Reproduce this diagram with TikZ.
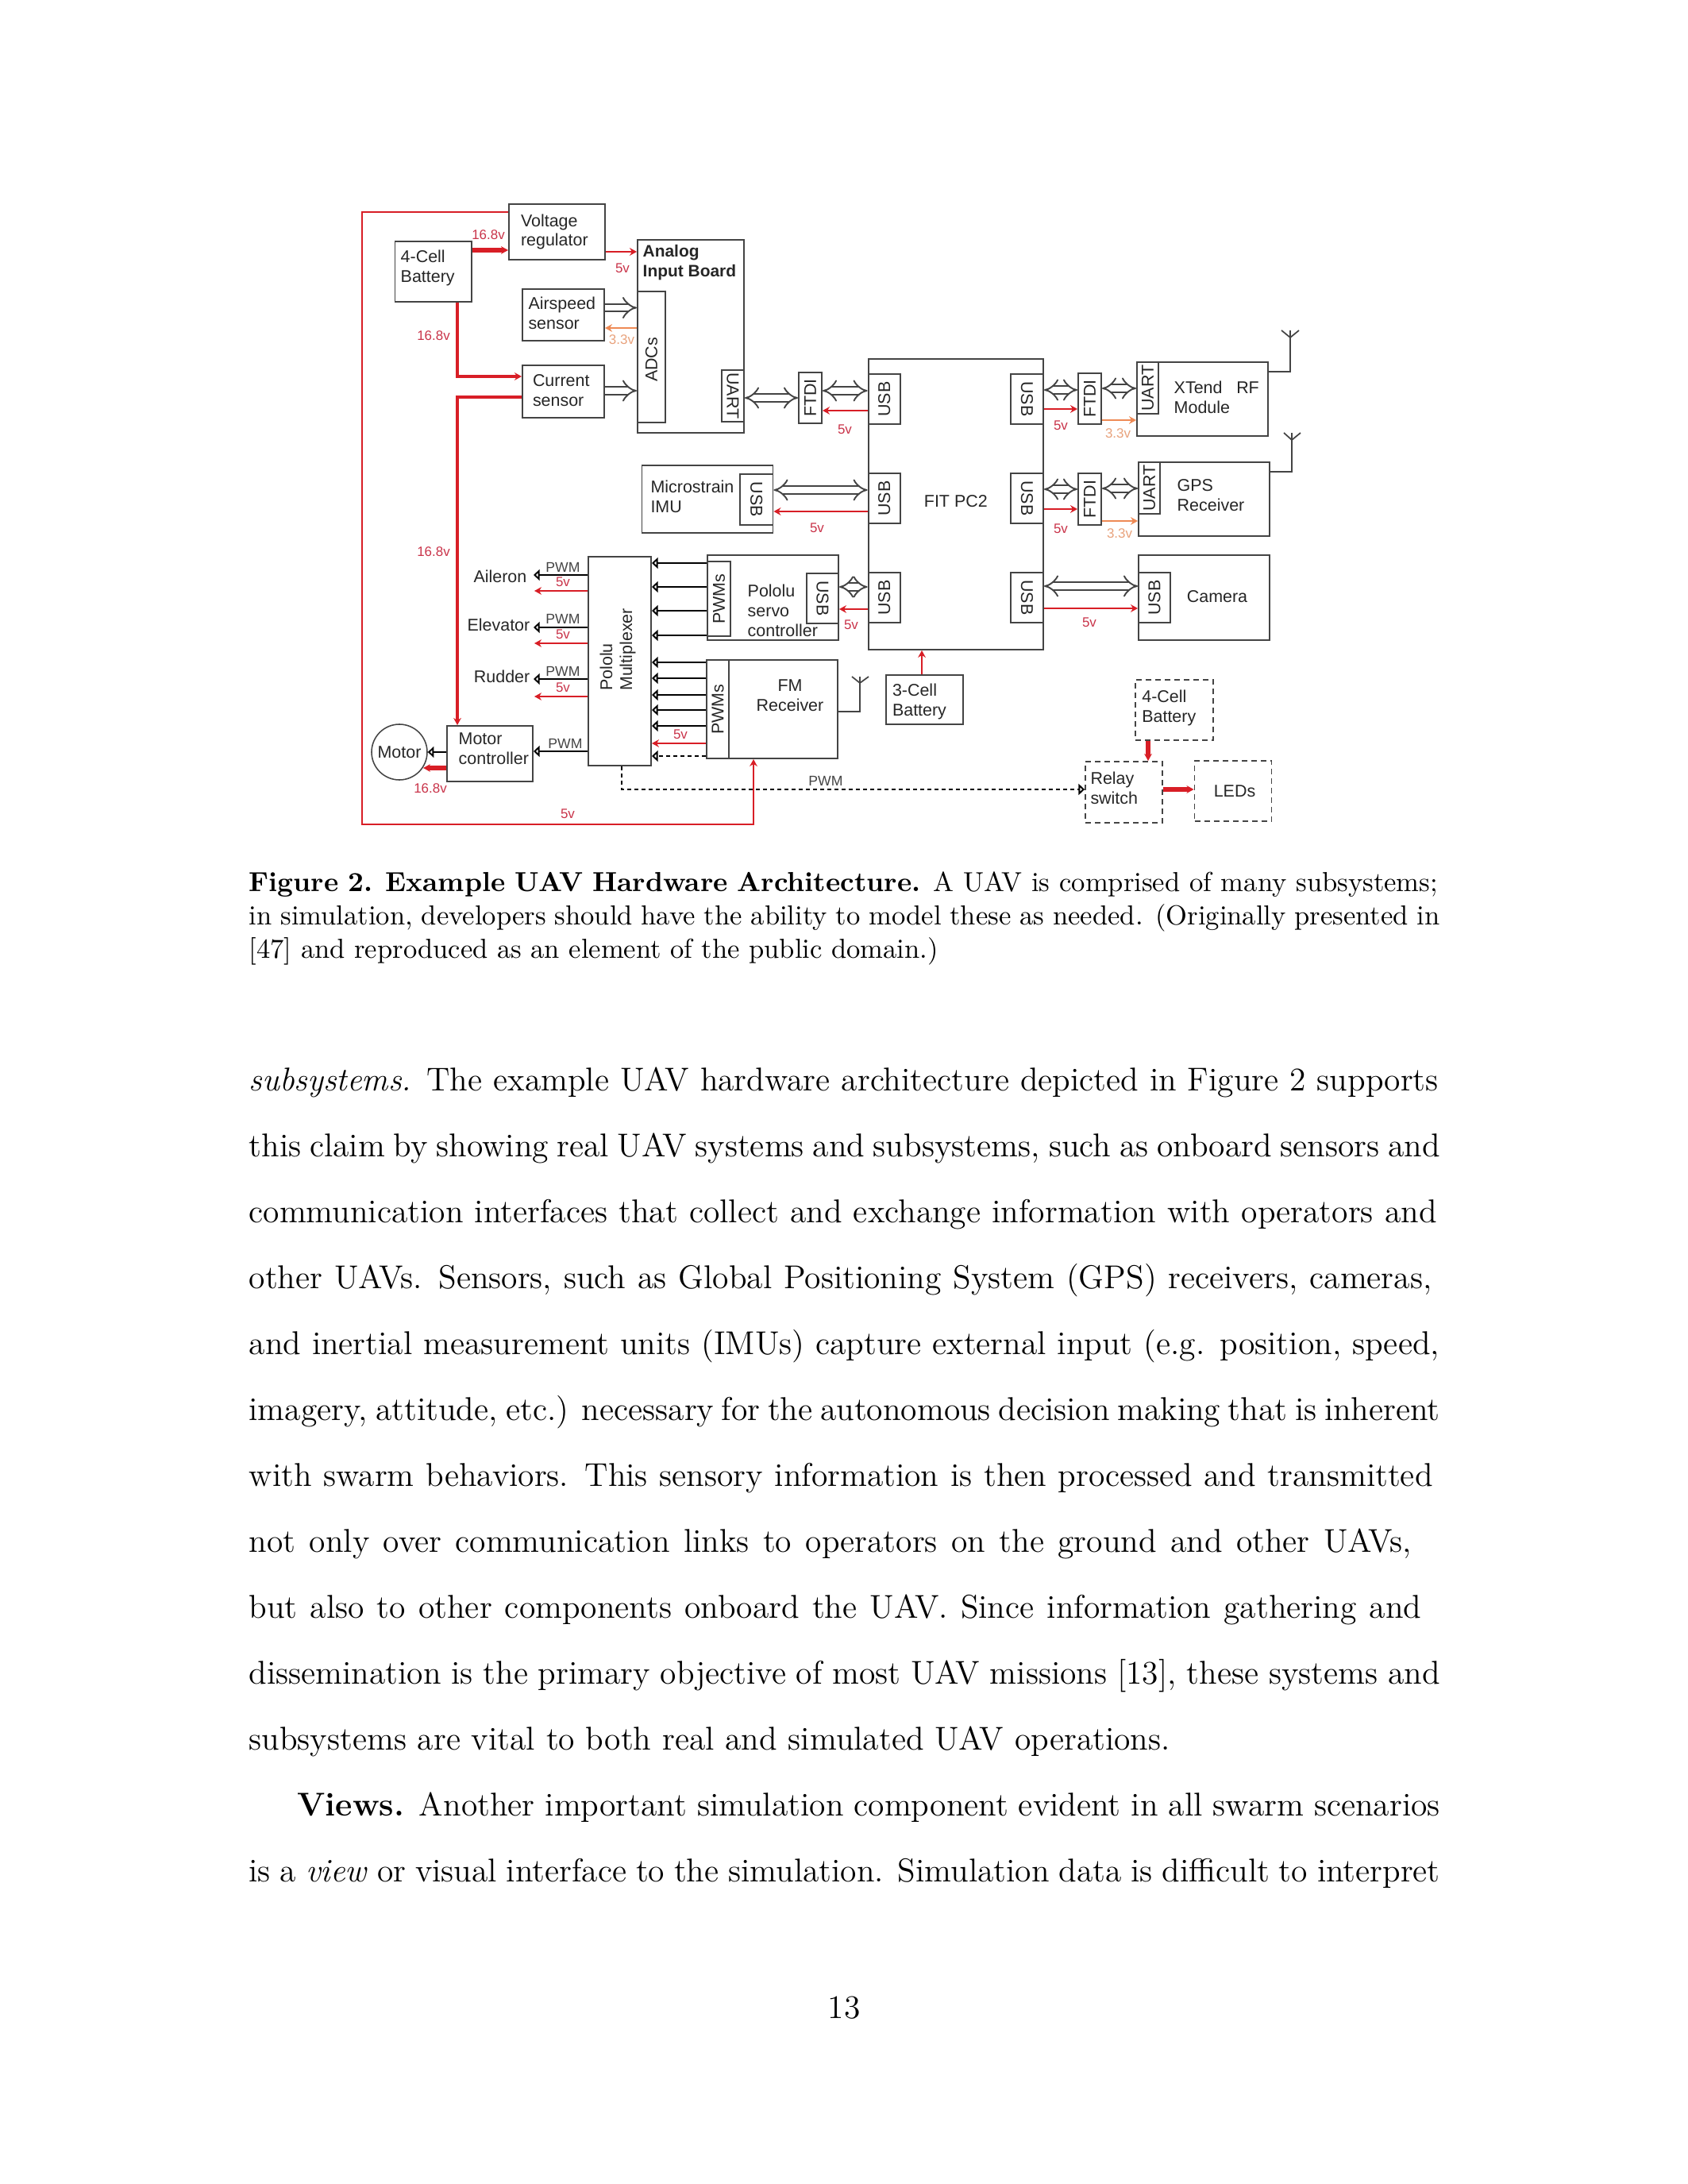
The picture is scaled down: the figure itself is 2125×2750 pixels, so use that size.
\documentclass[tikz,border=0pt]{standalone}
\usepackage{fontspec}
\usetikzlibrary{arrows.meta}
\newfontfamily\figfont{Liberation Sans}
\newdimen\px
\px=0.28908pt
\definecolor{boxgray}{HTML}{444444}
\definecolor{railred}{HTML}{D81E26}
\definecolor{railorange}{HTML}{EE8A55}
\definecolor{voltred}{HTML}{C9344A}
\definecolor{voltorange}{HTML}{E8A27C}
\begin{document}
\begin{tikzpicture}[x=\px,y=-\px,>=Stealth,
    blk/.style={draw=boxgray,line width=.55pt,inner sep=0pt,align=left,text=black!85,font=\figfont\fontsize{6.2}{7.2}\selectfont},
    dashblk/.style={blk,dash pattern=on 7\px off 5\px},
    txt/.style={inner sep=0pt,align=left,text=black!85,font=\figfont\fontsize{6.2}{7.2}\selectfont},
    volts/.style={inner sep=0pt,text=voltred,font=\figfont\fontsize{4.9}{6}\selectfont},
    volts3/.style={volts,text=voltorange},
    pwm/.style={inner sep=0pt,text=boxgray,font=\figfont\fontsize{5.1}{6}\selectfont},
    rail/.style={draw=railred,line width=.85pt,-{Stealth[length=2.6pt,width=2.8pt]}},
    rail2/.style={rail,line width=1.6pt},
    rail3/.style={draw=railorange,line width=.85pt,-{Stealth[length=2.6pt,width=2.8pt]}},
    sig/.style={line width=.85pt,-{Triangle[open,fill=white,length=2.2pt,width=4pt]}},
    wide/.style={boxgray,line width=.55pt,double,double distance=2.2pt,{Implies[length=2.2pt,width=6.4pt]}-{Implies[length=2.2pt,width=6.4pt]}},
    wide1/.style={boxgray,line width=.55pt,double,double distance=2.2pt,-{Implies[length=2.2pt,width=6.4pt]}},
    ant/.style={draw=boxgray,line width=.5pt}]
  \useasboundingbox (0,0) rectangle (2125,2750);
  % power side
  \node[blk,minimum width=121\px,minimum height=70\px,text width=91\px,inner xsep=15\px] (volt) at (701.5,292) {Voltage\\regulator};
  \node[blk,minimum width=96.5\px,minimum height=76\px,text width=82\px,inner xsep=7\px,text depth=38\px] (batt) at (545.7,342) {4-Cell\\Battery};
  \node[blk,minimum width=103\px,minimum height=65\px,text width=88\px,inner xsep=7.5\px,text depth=30\px] (air) at (709.5,396.5) {Airspeed\\sensor};
  \node[blk,minimum width=103\px,minimum height=66\px,text width=77\px,inner xsep=13\px,text depth=28\px] (cur) at (709.5,493) {Current\\sensor};
  \node[blk,minimum width=134\px,minimum height=243\px] (adb) at (870,423.5) {};
  \node[txt,anchor=north west,font=\figfont\bfseries\fontsize{6.05}{7.2}\selectfont] (adbtxt) at (809,307.5) {Analog\\Input Board};
  \node[blk,rotate=90,minimum width=165\px,minimum height=35\px] (adc) at (820.5,449.5) {ADCs\hspace*{7\px}};
  \node[blk,rotate=-90,minimum width=65\px,minimum height=28\px] (uarta) at (923,498.5) {UART};
  \node[blk,rotate=90,minimum width=64\px,minimum height=29\px] (ftdia) at (1020.5,501) {FTDI};
  % the pc and its ports
  \node[blk,minimum width=220.4\px,minimum height=366\px] (pc) at (1203.8,635) {\raisebox{8\px}{FIT PC2}};
  \node[blk,rotate=90,minimum width=63\px,minimum height=40.4\px] (usba) at (1113.8,502.5) {USB};
  \node[blk,rotate=90,minimum width=63\px,minimum height=40.4\px] (usbb) at (1113.8,627.5) {USB};
  \node[blk,rotate=90,minimum width=63\px,minimum height=40.4\px] (usbc) at (1113.8,752.5) {USB};
  \node[blk,rotate=-90,minimum width=63\px,minimum height=41\px] (usbd) at (1293.5,502.5) {USB};
  \node[blk,rotate=-90,minimum width=63\px,minimum height=41\px] (usbe) at (1293.5,627.5) {USB};
  \node[blk,rotate=-90,minimum width=63\px,minimum height=41\px] (usbf) at (1293.5,752.5) {USB};
  \node[blk,minimum width=165\px,minimum height=85\px,text width=143\px,inner xsep=11\px,text depth=31\px] (imu) at (891,628.5) {Microstrain\\IMU};
  \node[blk,rotate=-90,minimum width=64\px,minimum height=41.5\px] (usbi) at (952.7,629) {USB};
  \node[blk,rotate=90,minimum width=64\px,minimum height=29\px] (ftdib) at (1372.5,502) {FTDI};
  \node[blk,rotate=90,minimum width=65\px,minimum height=29\px] (ftdic) at (1372.5,628.5) {FTDI};
  \node[blk,minimum width=165\px,minimum height=93\px] (xtend) at (1514.5,502.5) {};
  \node[txt,anchor=west] (xtendtxt) at (1478,500.5) {XTend\hspace{.55em} RF\\Module};
  \node[blk,rotate=90,minimum width=65\px,minimum height=27\px] (uartb) at (1445.5,488.5) {UART};
  \node[blk,minimum width=164.6\px,minimum height=93\px] (gps) at (1516.3,628.5) {};
  \node[txt,anchor=west] (gpstxt) at (1482,624) {GPS\\Receiver};
  \node[blk,rotate=90,minimum width=65\px,minimum height=27\px] (uartc) at (1447.5,614.5) {UART};
  \node[blk,minimum width=164.6\px,minimum height=107\px] (cam) at (1516.3,752.5) {};
  \node[txt] (camtxt) at (1533,751) {Camera};
  \node[blk,rotate=90,minimum width=63\px,minimum height=40\px] (usbg) at (1454,752.5) {USB};
  % servo side
  \node[blk,minimum width=79\px,minimum height=263\px] (mux) at (780.5,832.5) {};
  \node[txt,rotate=90] (muxtxt) at (778,818) {Pololu\\Multiplexer};
  \node[blk,minimum width=165\px,minimum height=107\px] (servo) at (973.5,752.5) {};
  \node[txt,anchor=north west] (servotxt) at (941,735) {Pololu\\servo\\controller};
  \node[blk,rotate=90,minimum width=94\px,minimum height=29\px] (pwma) at (905.5,754) {PWMs};
  \node[blk,rotate=-90,minimum width=63\px,minimum height=40\px] (usbs) at (1036,753.5) {USB};
  \node[blk,minimum width=165\px,minimum height=124\px] (fm) at (972.5,893) {};
  \node[txt,align=center] (fmtxt) at (995,876) {FM\\Receiver};
  \node[blk,rotate=90,minimum width=124\px,minimum height=28\px] (pwmb) at (904,893) {PWMs};
  \node[blk,minimum width=97\px,minimum height=62\px,text width=81\px,inner xsep=8\px,text height=20\px] (cellc) at (1164.5,881) {3-Cell\\Battery};
  \node[blk,minimum width=108\px,minimum height=70\px] (mctrl) at (617,949) {};
  \node[txt,anchor=west] (mctrltxt) at (577,943) {Motor\\controller};
  \node[blk,circle,minimum size=70\px,line width=.45pt,align=center] (motor) at (503,947) {Motor};
  \node[txt,anchor=east,inner xsep=8\px] (ail) at (672,726) {Aileron};
  \node[txt,anchor=east,inner xsep=4\px] (ele) at (672,787) {Elevator};
  \node[txt,anchor=east,inner xsep=4\px] (rud) at (672,852) {Rudder};
  % dashed part
  \node[dashblk,minimum width=97.4\px,minimum height=76\px,text width=82\px,inner xsep=8\px,text depth=35\px] (celld) at (1479.3,894) {4-Cell\\Battery};
  \node[dashblk,minimum width=97\px,minimum height=77\px,text width=84\px,inner xsep=6.5\px,text depth=35\px] (relay) at (1415.5,997.5) {Relay\\switch};
  \node[dashblk,minimum width=97\px,minimum height=76\px,align=center] (leds) at (1553,996) {\hspace*{4\px}LEDs};
  % power lines
  \draw[rail2] (batt.east |- 0,315) -- (volt.west |- 0,315);
  \draw[rail] (volt.east |- 0,317) -- (adb.west |- 0,317);
  \draw[rail,line width=1.2pt] (batt.south -| 576,0) -- (576,474) -- (cur.west |- 0,474);
  \draw[rail,line width=1.2pt] (cur.west |- 0,500) -- (576,500) -- (mctrl.north -| 576,0);
  \draw[rail] (volt.west |- 0,267) -- (456,267) -- (456,1038) -- (949,1038) -- (fm.south -| 949,0);
  \draw[rail3] (adb.west |- 0,413) -- (air.east |- 0,413);
  \draw[rail] (usba.north |- 0,517) -- (ftdia.south |- 0,517);
  \draw[rail] (usbb.north |- 0,644) -- (usbi.north |- 0,644);
  \draw[rail] (usbc.north |- 0,767) -- (usbs.north |- 0,767);
  \draw[rail] (usbd.north |- 0,515) -- (ftdib.north |- 0,515);
  \draw[rail] (usbe.north |- 0,641) -- (ftdic.north |- 0,641);
  \draw[rail] (usbf.north |- 0,766) -- (cam.west |- 0,766);
  \draw[rail3] (ftdib.south |- 0,529) -- (xtend.west |- 0,529);
  \draw[rail3] (ftdic.south |- 0,656) -- (gps.west |- 0,656);
  \draw[rail] (cellc.north -| 1161,0) -- (pc.south -| 1161,0);
  \draw[rail2] (celld.south -| 1446,0) -- (relay.north -| 1446,0);
  \draw[rail2] (relay.east |- 0,994) -- (leds.west |- 0,994);
  \draw[rail] (pwmb.north |- 0,936) -- (mux.east |- 0,936);
  \draw[rail] (mux.west |- 0,744) -- (673,744);
  \draw[rail] (mux.west |- 0,810) -- (673,810);
  \draw[rail] (mux.west |- 0,877) -- (673,877);
  \draw[rail2] (mctrl.west |- 0,967) -- (533,967);
  % data lines
  \draw[wide1] (air.east |- 0,387.5) -- (adb.west |- 0,387.5);
  \draw[wide1] (cur.east |- 0,492) -- (adb.west |- 0,492);
  \draw[wide] (uarta.north |- 0,501) -- (ftdia.north |- 0,501);
  \draw[wide] (ftdia.south |- 0,492) -- (usba.north |- 0,492);
  \draw[wide] (usbi.north |- 0,617) -- (usbb.north |- 0,617);
  \draw[wide] (usbs.north |- 0,739) -- (usbc.north |- 0,739);
  \draw[wide] (usbd.north |- 0,491) -- (ftdib.north |- 0,491);
  \draw[wide] (ftdib.south |- 0,489) -- (uartb.north |- 0,489);
  \draw[wide] (usbe.north |- 0,616) -- (ftdic.north |- 0,616);
  \draw[wide] (ftdic.south |- 0,615) -- (uartc.north |- 0,615);
  \draw[wide] (usbf.north |- 0,738) -- (usbg.north |- 0,738);
  % pwm lines
  \draw[sig] (pwma.north |- 0,709) -- (mux.east |- 0,709);
  \draw[sig] (pwma.north |- 0,739) -- (mux.east |- 0,739);
  \draw[sig] (pwma.north |- 0,769) -- (mux.east |- 0,769);
  \draw[sig] (pwma.north |- 0,800) -- (mux.east |- 0,800);
  \draw[sig] (pwmb.north |- 0,834) -- (mux.east |- 0,834);
  \draw[sig] (pwmb.north |- 0,854) -- (mux.east |- 0,854);
  \draw[sig] (pwmb.north |- 0,875) -- (mux.east |- 0,875);
  \draw[sig] (pwmb.north |- 0,894) -- (mux.east |- 0,894);
  \draw[sig] (pwmb.north |- 0,914) -- (mux.east |- 0,914);
  \draw[sig,dash pattern=on 5\px off 4\px] (pwmb.north |- 0,952) -- (mux.east |- 0,952);
  \draw[sig] (mux.west |- 0,724) -- (ail.east |- 0,724);
  \draw[sig] (mux.west |- 0,790) -- (ele.east |- 0,790);
  \draw[sig] (mux.west |- 0,855) -- (rud.east |- 0,855);
  \draw[sig] (mux.west |- 0,946) -- (mctrl.east |- 0,946);
  \draw[sig] (mctrl.west |- 0,947) -- (motor.east |- 0,947);
  \draw[sig,dash pattern=on 5\px off 4\px] (mux.south -| 783,0) -- (783,994) -- (relay.west |- 0,994);
  % antennas
  \draw[ant] (xtend.east |- 0,468) -- (1625,468) -- (1625,416);
  \draw[ant] (1614,416) -- (1625,425) -- (1636,416);
  \draw[ant] (gps.east |- 0,594) -- (1627,594) -- (1627,545);
  \draw[ant] (1617,545) -- (1627,554) -- (1638,545);
  \draw[ant] (fm.east |- 0,896) -- (1083,896) -- (1083,852);
  \draw[ant] (1073,852) -- (1083,860) -- (1094,852);
  % labels
  \node[volts] (va) at (615,296) {16.8v};
  \node[volts] (vb) at (784,338) {5v};
  \node[volts3] (vc) at (783,428) {3.3v};
  \node[volts] (vd) at (546,423) {16.8v};
  \node[volts] (ve) at (546,695) {16.8v};
  \node[volts] (vf) at (1064,541) {5v};
  \node[volts] (vg) at (1029,665) {5v};
  \node[volts] (vh) at (1072,787) {5v};
  \node[volts] (vi) at (1336,536) {5v};
  \node[volts3] (vj) at (1408,546) {3.3v};
  \node[volts] (vk) at (1336,666) {5v};
  \node[volts3] (vl) at (1410,672) {3.3v};
  \node[volts] (vm) at (1372,784) {5v};
  \node[volts] (vn) at (709,733) {5v};
  \node[volts] (vo) at (709,799) {5v};
  \node[volts] (vp) at (709,866) {5v};
  \node[volts] (vq) at (857,925) {5v};
  \node[volts] (vr) at (542,993) {16.8v};
  \node[volts] (vs) at (715,1025) {5v};
  \node[pwm] (pa) at (709,714) {PWM};
  \node[pwm] (pb) at (709,779) {PWM};
  \node[pwm] (pc2) at (709,845) {PWM};
  \node[pwm] (pd) at (712,936) {PWM};
  \node[pwm] (pe) at (1040,983) {PWM};
  % caption and text of the page
  \node[inner sep=0pt,anchor=north west,text width=6in,font=\fontsize{10}{12.15}\selectfont] (capt) at (313,1097) {%
    \tolerance=9999\spaceskip=.333em plus .2em minus .2em\xspaceskip=.46em plus .3em minus .12em
    \textbf{Figure 2. Example UAV Hardware Architecture.} A UAV is comprised of many subsystems;\linebreak
    in simulation, developers should have the ability to model these as needed. (Originally presented in\linebreak{}
    [47] and reproduced as an element of the public domain.)};
  \node[inner sep=0pt,anchor=north west,text width=6in,font=\fontsize{12}{24}\selectfont] (body) at (313,1343) {%
    \tolerance=9999\spaceskip=.333em plus .2em minus .2em\xspaceskip=.46em plus .3em minus .12em
    \textit{subsystems.} The example UAV hardware architecture depicted in Figure 2 supports\linebreak
    this claim by showing real UAV systems and subsystems, such as onboard sensors and\linebreak
    communication interfaces that collect and exchange information with operators and\linebreak
    other UAVs. Sensors, such as Global Positioning System (GPS) receivers, cameras,\linebreak
    and inertial measurement units (IMUs) capture external input (e.g. position, speed,\linebreak
    imagery, attitude, etc.) necessary for the autonomous decision making that is inherent\linebreak
    with swarm behaviors. This sensory information is then processed and transmitted\linebreak
    not only over communication links to operators on the ground and other UAVs,\linebreak
    but also to other components onboard the UAV. Since information gathering and\linebreak
    dissemination is the primary objective of most UAV missions [13], these systems and\linebreak
    subsystems are vital to both real and simulated UAV operations.\par
    \hspace*{17.6pt}\textbf{Views.} Another important simulation component evident in all swarm scenarios\linebreak
    is a \textit{view} or visual interface to the simulation. Simulation data is difficult to interpret};
  \node[inner sep=0pt,font=\fontsize{12}{14}\selectfont] (pageno) at (1063,2528) {13};
\end{tikzpicture}
\end{document}
